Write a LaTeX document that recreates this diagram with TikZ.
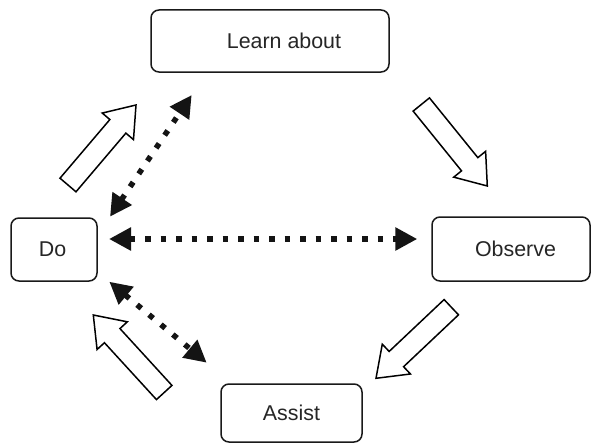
\documentclass[tikz,border=0pt]{standalone}
\usepackage{fontspec}
\setmainfont{Liberation Sans}
\usetikzlibrary{calc,arrows.meta}
\tikzset{
  box/.style={draw=black!90, line width=1.5pt, rounded corners=8pt, fill=white, inner sep=0pt},
  lbl/.style={font=\fontsize{21.4}{25}\selectfont, text=black!85, inner sep=0pt},
  hollow/.style={draw=black, line width=1.5pt, fill=white, line join=miter},
  dots/.style={line width=5.5pt, black!92, dash pattern=on 5.5pt off 10pt,
    {Triangle[length=22pt,width=22pt]}-{Triangle[length=22pt,width=22pt]}}
}
\newcommand\hollowarrow[3]{%
  \coordinate (#1H) at ($(#3)!28pt!(#2)$);
  \draw[hollow] ($(#2)!10.5pt!90:(#3)$) -- ($(#1H)!10.5pt!-90:(#2)$)
    -- ($(#1H)!20.5pt!-90:(#2)$) -- (#3) -- ($(#1H)!20.5pt!90:(#2)$)
    -- ($(#1H)!10.5pt!90:(#2)$) -- ($(#2)!10.5pt!-90:(#3)$) -- cycle;
}
\begin{document}
\begin{tikzpicture}[x=1pt,y=-1pt]
\useasboundingbox[fill=white] (0,0) rectangle (599,444);
% boxes
\node[box, minimum width=238pt, minimum height=62pt] (learn) at (270,41) {};
\node[box, minimum width=86pt, minimum height=63pt] (do) at (54,249.5) {};
\node[box, minimum width=158pt, minimum height=64pt] (observe) at (511,249) {};
\node[box, minimum width=141pt, minimum height=58pt] (assist) at (291.5,413) {};
\node[lbl] (learnT) at (284,41) {Learn about};
\node[lbl] (doT) at (52.5,249.5) {Do};
\node[lbl] (observeT) at (515.5,249) {Observe};
\node[lbl] (assistT) at (291.5,413) {Assist};
% hollow block arrows
\coordinate (a1t) at (68,185);    \coordinate (a1h) at (136,105);
\coordinate (a2t) at (421.3,104.5); \coordinate (a2h) at (487.3,186);
\coordinate (a3t) at (451.3,307.2); \coordinate (a3h) at (376,378.3);
\coordinate (a4t) at (164.2,392.5); \coordinate (a4h) at (93.3,315);
\hollowarrow{a1}{a1t}{a1h}
\hollowarrow{a2}{a2t}{a2h}
\hollowarrow{a3}{a3t}{a3h}
\hollowarrow{a4}{a4t}{a4h}
% dotted double arrows
\coordinate (d1a) at (110,216.7);  \coordinate (d1b) at (191.7,95);
\coordinate (d2a) at (109.3,281.7); \coordinate (d2b) at (206.7,362.7);
\coordinate (d3a) at (109,239);    \coordinate (d3b) at (417.3,239);
\draw[dots] (d1a) -- (d1b);
\draw[dots] (d2a) -- (d2b);
\draw[dots] (d3a) -- (d3b);
\end{tikzpicture}
\end{document}
